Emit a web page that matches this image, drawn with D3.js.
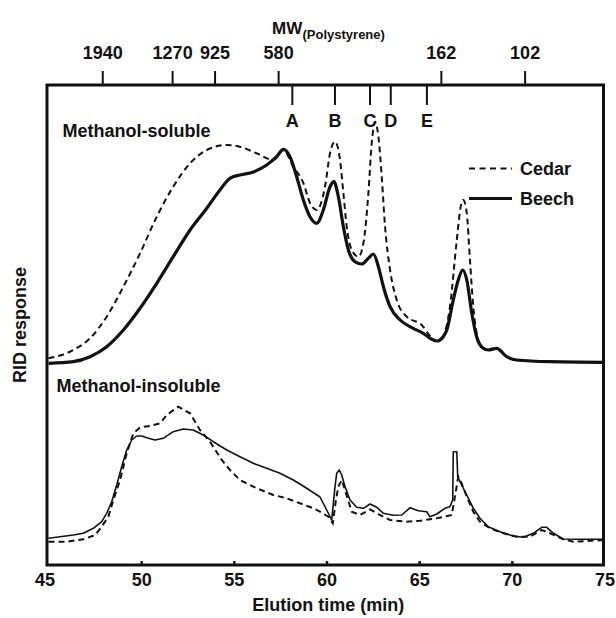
<!DOCTYPE html>
<html>
<head>
<meta charset="utf-8">
<script src="https://cdn.jsdelivr.net/npm/d3@7"></script>
<style>
  html, body { margin: 0; padding: 0; background: #fff; }
  svg text { font-family: "Liberation Sans", Arial, Helvetica, sans-serif; font-weight: bold; fill: #111; }
</style>
</head>
<body>
<svg id="chart" width="616" height="618"></svg>
<script>
// ---------- data ----------
const elutionTicks = [45, 50, 55, 60, 65, 70, 75];
const mwLabels = ["1940", "1270", "925", "580", "162", "102"];
const mwTimes = [47.90, 51.67, 53.96, 57.39, 66.17, 70.69];
const peakLabels = ["A", "B", "C", "D", "E"];
const peakTimes = [58.13, 60.43, 62.32, 63.44, 65.39];
const seriesNames = ["Cedar", "Beech"];

// Methanol-soluble (offset trace, upper)
const solCedarT = [45, 46.34, 47.24, 48.14, 49.04, 49.94, 50.84, 51.73, 52.64, 53.54, 54.62, 55.33, 56.23, 57.13, 57.67, 58.21, 58.75, 59.11, 59.47, 59.92, 60.19, 60.46, 60.73, 60.91, 61.09, 61.36, 61.72, 61.99, 62.26, 62.44, 62.62, 62.80, 62.98, 63.16, 63.43, 63.79, 64.33, 65.14, 65.59, 65.95, 66.30, 66.66, 67.03, 67.24, 67.38, 67.57, 67.74, 67.92, 68.19, 68.46, 68.73, 69.18, 69.72, 70.26, 72.06, 75];
const solCedarV = [206.7, 215, 226.7, 248.3, 278.3, 311.7, 348.3, 378.3, 401.7, 415, 420, 418.3, 411.7, 405, 415, 398.3, 382, 362, 355, 378.3, 411.7, 423.3, 405, 372, 338.3, 315, 308.3, 321.7, 371.7, 421.7, 443.3, 428.3, 388.3, 338.3, 295, 265, 248.3, 240, 229, 224, 229, 258.3, 325, 358.3, 365, 351.7, 305, 258.3, 225, 216.7, 215, 216.7, 208.3, 205, 203.3, 202.7];
const solBeechT = [45, 46.34, 47.24, 48.14, 49.04, 49.94, 50.84, 51.73, 52.64, 53.54, 54.25, 54.79, 55.33, 56.05, 56.77, 57.31, 57.67, 58.03, 58.39, 58.75, 59.11, 59.47, 59.83, 60.19, 60.40, 60.64, 60.91, 61.18, 61.54, 61.90, 62.26, 62.53, 62.80, 63.07, 63.43, 63.97, 64.68, 65.22, 65.59, 65.95, 66.30, 66.49, 66.84, 67.11, 67.35, 67.57, 67.84, 68.10, 68.46, 68.73, 69.18, 69.72, 70.26, 72.06, 75];
const solBeechV = [201.7, 203.3, 208.3, 218.3, 235, 256.7, 281.7, 308.3, 335, 356.7, 375, 386.7, 390, 393, 400, 408.3, 415.7, 408.3, 388.3, 365, 348.3, 341.7, 355, 378.3, 383.3, 368.3, 338.3, 315, 303.3, 301, 306.7, 311, 298.3, 278.3, 258.3, 245, 236.7, 231.7, 226.7, 224, 228.3, 235, 265, 285, 295, 285, 251.7, 228.3, 216.7, 215, 216.7, 208.3, 205, 203.3, 202.7];

// Methanol-insoluble (lower)
const insCedarT = [45, 45.98, 46.88, 47.51, 47.87, 48.23, 48.50, 48.86, 49.22, 49.58, 49.94, 50.48, 51.02, 51.38, 52.00, 52.64, 53.17, 53.71, 54.35, 54.79, 55.33, 56.23, 57.13, 57.85, 58.57, 59.29, 59.65, 60.10, 60.34, 60.51, 60.64, 60.82, 61.00, 61.36, 61.81, 62.35, 62.89, 63.43, 64.33, 65.05, 65.95, 66.76, 66.93, 67.11, 67.29, 67.57, 67.92, 68.28, 68.82, 69.54, 70.26, 70.98, 71.61, 72.06, 72.78, 73.32, 75];
const insCedarV = [23.3, 23.3, 25.7, 30, 38.3, 48.3, 65, 85, 111.7, 131.7, 137.7, 139, 141.7, 150, 158.3, 151.7, 135, 123.3, 105, 95, 85, 76.7, 70, 66.7, 61.7, 56.7, 53.3, 48.3, 41.7, 65, 78.3, 85, 75, 53.3, 50, 55.7, 50, 45, 43.3, 44.3, 46.7, 50, 68.3, 88.3, 81.7, 68.3, 53.3, 43.3, 36.7, 31.7, 28.3, 28.3, 35, 31.7, 25.7, 23.3, 25];
const insBeechT = [45, 45.62, 46.34, 46.88, 47.42, 47.87, 48.14, 48.41, 48.68, 48.95, 49.22, 49.49, 49.76, 50.03, 50.39, 50.75, 51.19, 51.73, 52.27, 52.81, 53.35, 53.89, 54.62, 55.33, 56.05, 56.77, 57.49, 58.21, 58.93, 59.65, 60.01, 60.28, 60.46, 60.55, 60.69, 60.82, 61.00, 61.27, 61.63, 61.99, 62.35, 62.71, 63.07, 63.60, 64.06, 64.51, 64.95, 65.41, 65.58, 65.95, 66.39, 66.66, 66.81, 66.84, 67.03, 67.08, 67.29, 67.57, 67.92, 68.28, 68.73, 69.36, 70.08, 70.62, 71.16, 71.61, 71.88, 72.24, 72.78, 73.68, 75];
const insBeechV = [26.7, 28.3, 30, 31.7, 36.7, 43.3, 51.7, 63.3, 80, 98.3, 115, 125, 129, 129, 126.7, 125, 126.7, 133.3, 136, 135, 130, 123.3, 115, 108.3, 101.7, 96.7, 91.7, 85, 76.7, 68, 55, 45, 78.3, 91.7, 95, 90, 78.3, 65, 57.7, 56.7, 61, 57.7, 51.7, 49.7, 50, 57.3, 54.3, 53.3, 48.3, 51, 56.7, 58.3, 65, 113.3, 113.3, 88.3, 80, 70, 56.7, 46.7, 38.3, 33.3, 29, 27.7, 31.7, 37.7, 37.7, 31.7, 26, 25.7, 25.7];

// ---------- chart ----------
const svg = d3.select("#chart");
const FS = 18;
const x = d3.scaleLinear().domain([45, 75]).range([48.5, 604.5]);
const y = d3.scaleLinear().domain([0, 480]).range([565, 85]);
const fTop = 85, fBottom = 565, fLeft = 47, fRight = 603.5;

const zip = (T, V) => T.map((t, i) => [t, V[i]]);

// frame
svg.append("rect")
  .attr("x", fLeft).attr("y", fTop)
  .attr("width", fRight - fLeft).attr("height", fBottom - fTop)
  .attr("fill", "none").attr("stroke", "#111").attr("stroke-width", 3);

// bottom axis (inward small ticks)
const gB = svg.append("g").attr("transform", `translate(0,${fBottom})`)
  .call(d3.axisBottom(x).tickValues(elutionTicks).tickSizeInner(-4).tickSizeOuter(0).tickPadding(8));
gB.select(".domain").remove();
gB.selectAll(".tick line").attr("stroke", "#111").attr("stroke-width", 2.5);
gB.selectAll(".tick line").filter(d => d === 45 || d === 75).remove();
gB.selectAll(".tick text").attr("font-size", FS).attr("fill", "#111").attr("dy", "0.71em")
  .attr("font-family", null);
gB.selectAll(".tick").filter(d => d === 45).select("text").attr("dx", -4);

// top MW axis (outward ticks)
const gT = svg.append("g").attr("transform", `translate(0,${fTop})`)
  .call(d3.axisTop(x).tickValues(mwTimes).tickSize(14).tickPadding(12)
    .tickFormat((d, i) => mwLabels[i]));
gT.select(".domain").remove();
gT.selectAll(".tick line").attr("stroke", "#111").attr("stroke-width", 2);
gT.selectAll(".tick text").attr("font-size", FS).attr("fill", "#111").attr("font-family", null);

// inner peak letter ticks
const gP = svg.append("g").attr("transform", `translate(0,${fTop})`)
  .call(d3.axisBottom(x).tickValues(peakTimes).tickSize(20).tickPadding(9)
    .tickFormat((d, i) => peakLabels[i]));
gP.select(".domain").remove();
gP.selectAll(".tick line").attr("stroke", "#111").attr("stroke-width", 2);
gP.selectAll(".tick text").attr("font-size", FS).attr("fill", "#111").attr("font-family", null);

// MW title
svg.append("text").attr("x", 272).attr("y", 33.5).attr("font-size", 17).text("MW");
svg.append("text").attr("x", 302.5).attr("y", 38.5).attr("font-size", 13).text("(Polystyrene)");

// axis titles
svg.append("text").attr("x", (fLeft + fRight) / 2 + 3).attr("y", 611)
  .attr("text-anchor", "middle").attr("font-size", FS).text("Elution time (min)");
svg.append("text").attr("transform", "translate(26,325) rotate(-90)")
  .attr("text-anchor", "middle").attr("font-size", FS).text("RID response");

// panel labels
svg.append("text").attr("x", 62.5).attr("y", 136.5).attr("font-size", FS).text("Methanol-soluble");
svg.append("text").attr("x", 56.5).attr("y", 391.5).attr("font-size", FS).text("Methanol-insoluble");

// lines
const lineSmooth = d3.line().x(d => x(d[0])).y(d => y(d[1])).curve(d3.curveMonotoneX);
const lineRaw = d3.line().x(d => x(d[0])).y(d => y(d[1])).curve(d3.curveLinear);

svg.append("path").datum(zip(insCedarT, insCedarV)).attr("d", lineRaw)
  .attr("fill", "none").attr("stroke", "#111").attr("stroke-width", 2).attr("stroke-dasharray", "6,4");
svg.append("path").datum(zip(insBeechT, insBeechV)).attr("d", lineRaw)
  .attr("fill", "none").attr("stroke", "#111").attr("stroke-width", 1.6).attr("stroke-linejoin", "round");

svg.append("path").datum(zip(solCedarT, solCedarV)).attr("d", lineSmooth)
  .attr("fill", "none").attr("stroke", "#111").attr("stroke-width", 2).attr("stroke-dasharray", "6,4");
svg.append("path").datum(zip(solBeechT, solBeechV)).attr("d", lineSmooth)
  .attr("fill", "none").attr("stroke", "#111").attr("stroke-width", 3.2).attr("stroke-linejoin", "round");

// legend
const legend = svg.append("g");
seriesNames.forEach((name, i) => {
  const ly = 168.5 + i * 30;
  legend.append("line").attr("x1", 469).attr("x2", 512).attr("y1", ly).attr("y2", ly)
    .attr("stroke", "#111").attr("stroke-width", i === 0 ? 2 : 3)
    .attr("stroke-dasharray", i === 0 ? "6,4.5" : null);
  legend.append("text").attr("x", 520).attr("y", ly + 6.5).attr("font-size", FS).text(name);
});
</script>
</body>
</html>
